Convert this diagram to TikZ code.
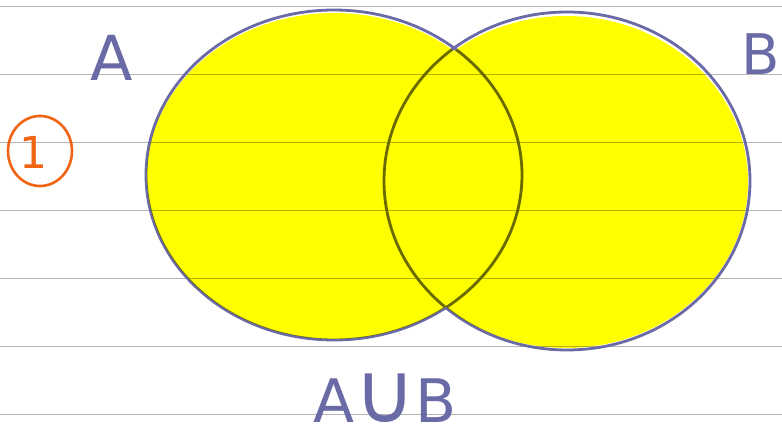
\documentclass[tikz,border=0pt]{standalone}
\usepackage{fontspec}
\setmainfont{DejaVu Sans}
\usetikzlibrary{shapes.geometric}
\definecolor{ink}{HTML}{6A6AA6}
\definecolor{rule}{HTML}{B4B4B4}
\definecolor{hl}{HTML}{FFFF00}
\definecolor{orng}{HTML}{F06414}
\tikzset{
  ruleline/.style={draw=rule, line width=1pt},
  outline/.style={draw=ink, line width=2.8pt},
  hand/.style={text=ink, inner sep=0pt, font=\fontsize{62}{62}\selectfont},
}
\begin{document}
\begin{tikzpicture}[x=1pt,y=-1pt]
\useasboundingbox[fill=white] (0,0) rectangle (782,435);
% ruled lines
\foreach \yy/\nm in {7/r1,75/r2,143/r3,211/r4,279/r5,347/r6,415/r7}{
  \coordinate (\nm a) at (0,\yy);
  \coordinate (\nm b) at (782,\yy);
  \draw[ruleline] (\nm a) -- (\nm b);
}
% circle outlines
\node[outline, ellipse, minimum width=376pt, minimum height=330pt, inner sep=0pt] (setA) at (334,175) {};
\node[outline, ellipse, minimum width=366pt, minimum height=338pt, inner sep=0pt] (setB) at (567,181) {};
% highlighter
\begin{scope}[blend mode=multiply]
  \fill[hl] (334,176) ellipse [x radius=187pt, y radius=163pt];
  \fill[hl] (566,182) ellipse [x radius=182pt, y radius=166pt];
\end{scope}
% labels
\node[hand] (labA) at (112,58) {A};
\node[hand, font=\fontsize{56}{56}\selectfont] (labB) at (761,54) {B};
\node[hand, font=\fontsize{60}{60}\selectfont] (labAB) at (385,398) {A{\fontsize{84}{84}\selectfont ∪}B};
% circled 1
\node[draw=orng, line width=2.6pt, ellipse, minimum width=64pt, minimum height=70pt, inner sep=0pt] (ring) at (40,151) {};
\node[text=orng, inner sep=0pt, font=\fontsize{44}{44}\selectfont] (one) at (33,152) {1};
\end{tikzpicture}
\end{document}
